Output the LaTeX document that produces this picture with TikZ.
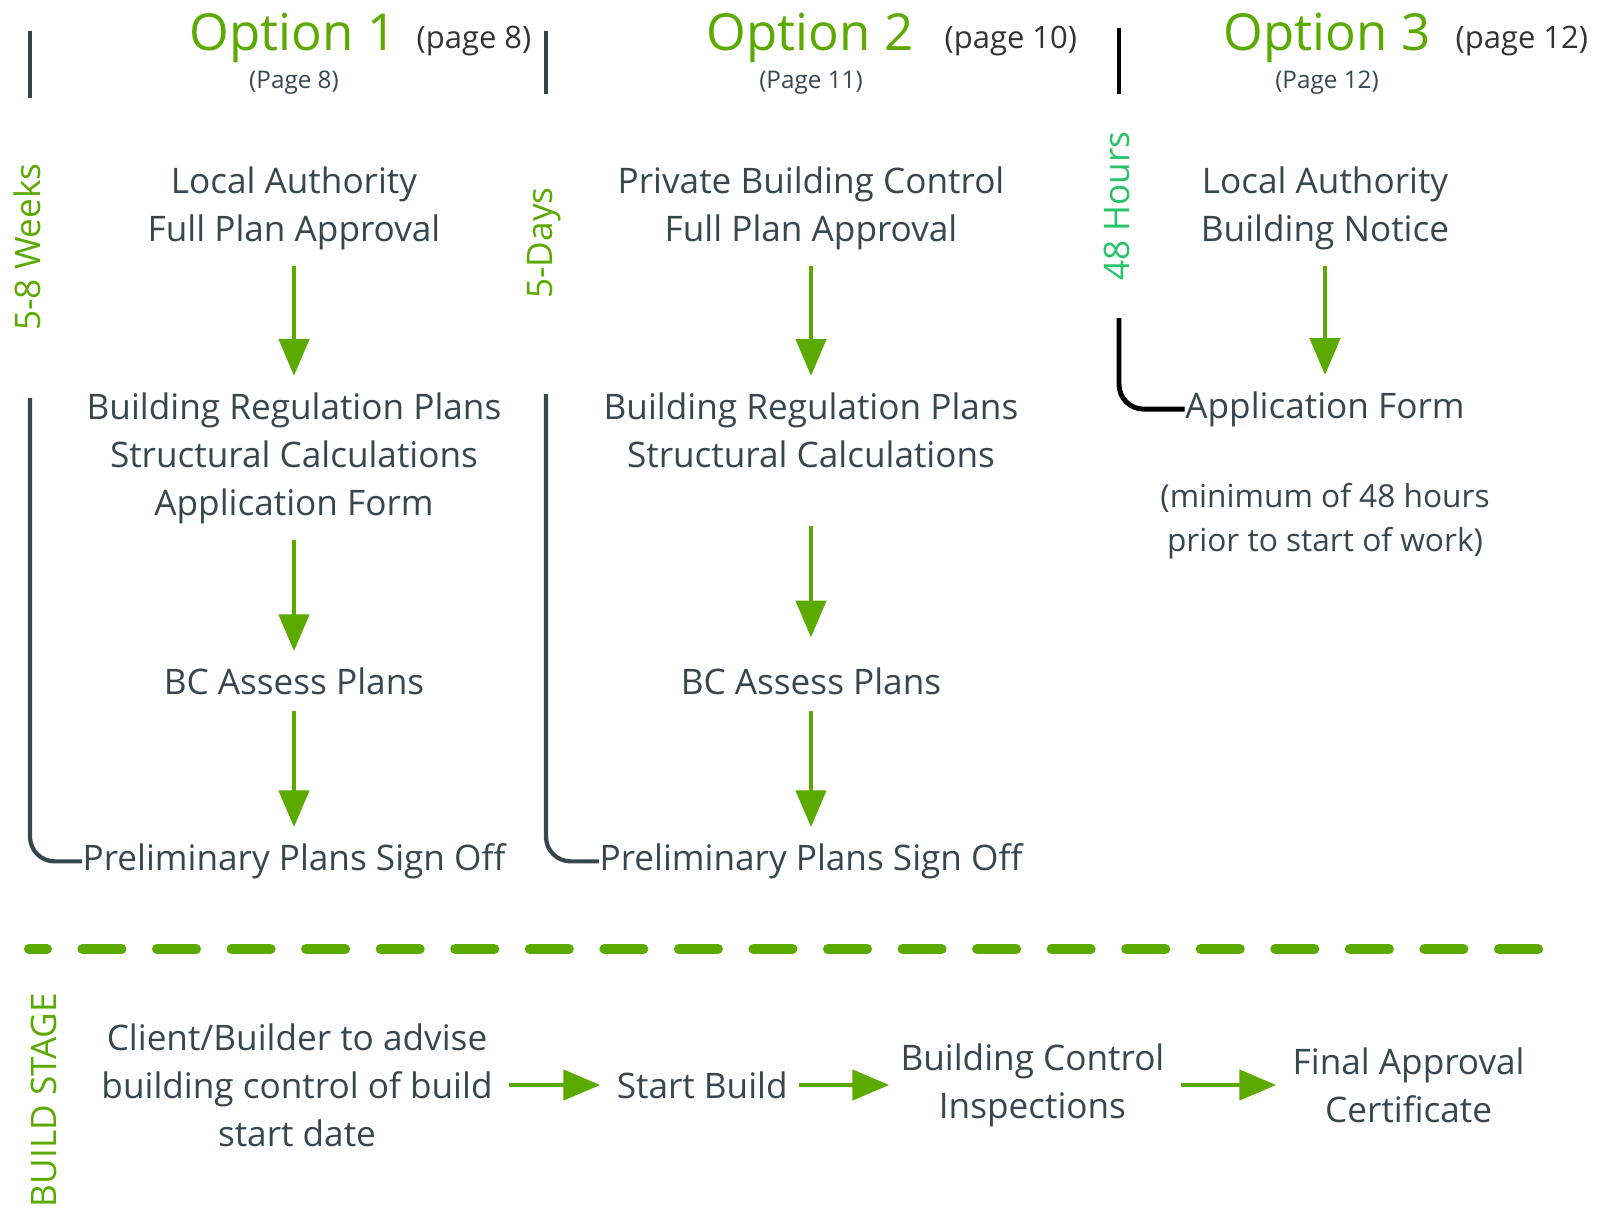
\documentclass[tikz,border=0pt]{standalone}
\usepackage{fontspec}
\setmainfont{Open Sans}
\usetikzlibrary{arrows.meta,positioning}

\definecolor{leafgreen}{HTML}{5AAA00}
\definecolor{slate}{HTML}{37474F}
\definecolor{mintgreen}{HTML}{27C36A}

\begin{document}
\begin{tikzpicture}[x=0.01cm,y=-0.01cm,on grid,
		stage/.style={text=slate,align=center,inner sep=0pt,
			font=\fontsize{10}{13.7}\selectfont},
		note/.style={text=slate,align=center,inner sep=0pt,
			font=\fontsize{9}{12.5}\selectfont},
		option/.style={text=leafgreen,inner sep=0pt,anchor=base,
			font=\fontsize{14.5}{17}\selectfont},
		pageref/.style={text=black!80,inner sep=0pt,anchor=base west,
			font=\fontsize{8.8}{10}\selectfont},
		subref/.style={text=slate,inner sep=0pt,anchor=base,
			font=\fontsize{6.9}{8}\selectfont},
		period/.style={text=leafgreen,inner sep=0pt,rotate=90,
			font=\fontsize{10}{12}\selectfont},
		flow/.style={draw=leafgreen,line width=1.4pt,
			-{Triangle[width=8.5pt,length=10.5pt]},
			shorten <=4.5pt,shorten >=4.5pt},
		bracket/.style={draw=slate,line width=1.2pt,rounded corners=7pt},
		divider/.style={draw=slate,line width=1.4pt}]

	\useasboundingbox (0,0) rectangle (1609,1209);

	% Headings
	\node[option] (opt1) at (293,51) {Option 1};
	\node[pageref] (pg1) at (416,48) {(page 8)};
	\node[subref] (sub1) at (294,88) {(Page 8)};

	\node[option] (opt2) at (810,51) {Option 2};
	\node[pageref] (pg2) at (944,48) {(page 10)};
	\node[subref] (sub2) at (811,88) {(Page 11)};

	\node[option] (opt3) at (1327,51) {Option 3};
	\node[pageref] (pg3) at (1455,48) {(page 12)};
	\node[subref] (sub3) at (1327,88) {(Page 12)};

	\draw[divider] (30,31) -- (30,98);
	\draw[divider] (546,31) -- (546,94);
	\draw[divider,draw=black] (1119,28) -- (1119,94);

	% Time spans
	\node[period] (weeks) at (27,247) {5-8 Weeks};
	\node[period] (days) at (544,243) {5-Days};
	\node[period,text=mintgreen] (hours) at (1117,206) {48 Hours};

	% Option 1
	\node[stage] (lap1) at (294,208) {Local Authority\\Full Plan Approval};
	\node[stage, below = 2.5cm of lap1] (docs1)
		{Building Regulation Plans\\Structural Calculations\\Application Form};
	\node[stage, below = 2.23cm of docs1] (assess1) {BC Assess Plans};
	\node[stage, below = 1.8cm of assess1] (sign1) {Preliminary Plans Sign Off};

	% Option 2
	\node[stage] (pbc2) at (811,208) {Private Building Control\\Full Plan Approval};
	\node[stage, below = 2.22cm of pbc2] (docs2)
		{Building Regulation Plans\\Structural Calculations};
	\node[stage, below = 2.51cm of docs2] (assess2) {BC Assess Plans};
	\node[stage, below = 1.8cm of assess2] (sign2) {Preliminary Plans Sign Off};

	% Option 3
	\node[stage] (lan3) at (1325,208) {Local Authority\\Building Notice};
	\node[stage, below = 2.01cm of lan3] (form3) {Application Form};
	\node[note, below = 1.12cm of form3] (note3)
		{(minimum of 48 hours\\prior to start of work)};

	\draw (lap1) edge[flow] (docs1)
		(docs1) edge[flow] (assess1)
		(assess1) edge[flow] (sign1)
		(pbc2) edge[flow] (docs2)
		(docs2) edge[flow, shorten <=16.5pt, shorten >=8.4pt] (assess2)
		(assess2) edge[flow] (sign2)
		(lan3) edge[flow] (form3)
		;

	% Brackets
	\coordinate (top1) at (30,398);
	\coordinate (top2) at (546,394);
	\coordinate (top3) at (1119,318);
	\draw[bracket] (top1) |- (sign1.west);
	\draw[bracket] (top2) |- (sign2.west);
	\draw[bracket,draw=black,line width=1.4pt] (top3) |- (form3.west);

	% Build stage
	\draw[leafgreen,line width=2.85pt,line cap=round,
		dash pattern=on 11.1pt off 10.1pt,dash phase=6pt] (29,949) -- (1545,949);

	\node[period] (build) at (44,1100) {BUILD STAGE};
	\node[stage] (client) at (297,1085)
		{Client/Builder to advise\\building control of build\\start date};
	\node[stage, right = 4.05cm of client] (start) {Start Build};
	\node[stage, right = 3.3cm of start] (inspect) {Building Control\\Inspections};
	\node[stage, right = 3.76cm of inspect] (final) {Final Approval\\Certificate};

	\draw (client) edge[flow] (start)
		(start) edge[flow, shorten <=3pt, shorten >=3pt] (inspect)
		(inspect) edge[flow] (final)
		;
\end{tikzpicture}
\end{document}
